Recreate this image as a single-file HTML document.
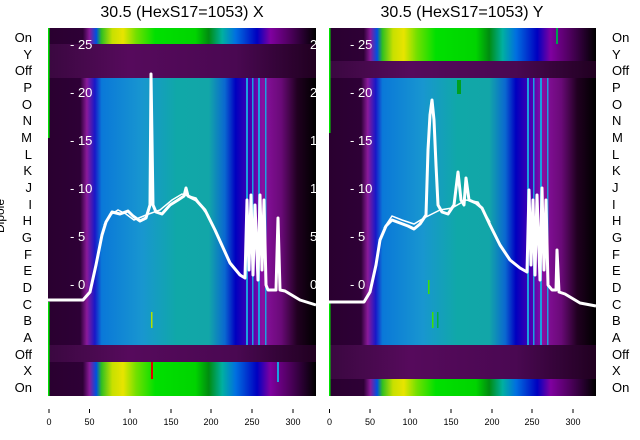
<!DOCTYPE html>
<html><head><meta charset="utf-8"><style>
html,body{margin:0;padding:0;background:#fff;}
svg{display:block;font-family:"Liberation Sans","DejaVu Sans",sans-serif;}
</style></head><body>
<svg width="640" height="440" viewBox="0 0 640 440" xmlns="http://www.w3.org/2000/svg">
<defs>
<linearGradient id="main" x1="0" x2="1" y1="0" y2="0">
<stop offset="0" stop-color="#2a0030"/><stop offset="0.12" stop-color="#2e0036"/>
<stop offset="0.145" stop-color="#8a1a9a"/><stop offset="0.175" stop-color="#1818c8"/>
<stop offset="0.2" stop-color="#0a78d8"/><stop offset="0.35" stop-color="#1896d0"/>
<stop offset="0.48" stop-color="#10a8a8"/><stop offset="0.6" stop-color="#12a6a8"/>
<stop offset="0.66" stop-color="#0a68d0"/><stop offset="0.7" stop-color="#0000c0"/>
<stop offset="0.76" stop-color="#5000b0"/><stop offset="0.8" stop-color="#8a10a0"/>
<stop offset="0.87" stop-color="#6a0a78"/><stop offset="0.93" stop-color="#200020"/>
<stop offset="1" stop-color="#000"/>
</linearGradient>
<linearGradient id="on" x1="0" x2="1" y1="0" y2="0">
<stop offset="0" stop-color="#2a0030"/><stop offset="0.13" stop-color="#2e0036"/>
<stop offset="0.155" stop-color="#8a1a9a"/><stop offset="0.18" stop-color="#0050e0"/>
<stop offset="0.2" stop-color="#30c020"/><stop offset="0.24" stop-color="#c8e000"/>
<stop offset="0.28" stop-color="#e8e400"/><stop offset="0.33" stop-color="#70e000"/>
<stop offset="0.4" stop-color="#00e000"/><stop offset="0.55" stop-color="#00d400"/>
<stop offset="0.6" stop-color="#008c10"/><stop offset="0.65" stop-color="#00b0a0"/>
<stop offset="0.7" stop-color="#0070e0"/><stop offset="0.78" stop-color="#0000c0"/>
<stop offset="0.83" stop-color="#8000a0"/><stop offset="0.9" stop-color="#500060"/>
<stop offset="1" stop-color="#000"/>
</linearGradient>
<linearGradient id="dark" x1="0" x2="1" y1="0" y2="0">
<stop offset="0" stop-color="#3a0840"/><stop offset="0.3" stop-color="#560a5c"/>
<stop offset="0.7" stop-color="#4a0852"/><stop offset="1" stop-color="#200020"/>
</linearGradient>
</defs>
<text x="182" y="17" font-size="16" text-anchor="middle">30.5 (HexS17=1053) X</text>
<text x="462" y="17" font-size="16" text-anchor="middle">30.5 (HexS17=1053) Y</text>

<!-- left panel -->
<g>
<rect x="48" y="28" width="268" height="368" fill="url(#main)"/>
<rect x="48" y="28" width="268" height="16" fill="url(#on)"/>
<rect x="48" y="44" width="268" height="34" fill="url(#dark)"/>
<rect x="48" y="345" width="268" height="17" fill="url(#dark)"/>
<rect x="48" y="362" width="268" height="34" fill="url(#on)"/>
<g fill="#1aa0e0"><rect x="246" y="78" width="2" height="267"/><rect x="252" y="78" width="1.5" height="267"/><rect x="258" y="78" width="2" height="267"/><rect x="265" y="78" width="1.5" height="267"/><rect x="277" y="362" width="2" height="20"/></g>
<rect x="151" y="362" width="2" height="17" fill="#e00000"/>
<rect x="151" y="312" width="1.5" height="16" fill="#b0e000"/>
<rect x="48" y="28" width="1.5" height="110" fill="#00e000"/>
<rect x="48" y="302" width="1.5" height="94" fill="#00e000"/>
<polyline fill="none" stroke="#fff" stroke-width="3" stroke-linejoin="round" points="48,300 83,300 90,292 96,265 102,235 106,222 112,212 120,214 128,211 133,216 140,221 146,218 150,205 151,74 153,205 156,212 162,214 170,205 178,200 184,196 186,188 188,196 196,200 205,210 215,230 230,263 240,275 245,278 247,200 249,270 251,195 253,275 255,205 258,280 260,195 262,270 264,200 266,285 268,290 276,290 278,218 280,290 285,291 300,300 316,305"/>
<polyline fill="none" stroke="#fff" stroke-width="1.5" points="104,225 110,215 118,210 126,214 134,220 146,215 160,210 172,200 182,194 196,198 205,212"/>
<g fill="#fff" font-size="13"><text x="70" y="49">- 25</text><text x="70" y="97">- 20</text><text x="70" y="145">- 15</text><text x="70" y="193">- 10</text><text x="70" y="241">- 5</text><text x="70" y="289">- 0</text></g>
<g fill="#fff" font-size="13"><text x="310" y="49">25</text><text x="310" y="97">20</text><text x="310" y="145">15</text><text x="310" y="193">10</text><text x="310" y="241">5</text><text x="310" y="289">0</text></g>
</g>

<!-- right panel -->
<g>
<rect x="329" y="28" width="267" height="368" fill="url(#main)"/>
<rect x="329" y="28" width="267" height="33" fill="url(#on)"/>
<rect x="329" y="61" width="267" height="17" fill="url(#dark)"/>
<rect x="329" y="345" width="267" height="34" fill="url(#dark)"/>
<rect x="329" y="379" width="267" height="17" fill="url(#on)"/>
<g fill="#1aa0e0"><rect x="527" y="78" width="2" height="267"/><rect x="533" y="78" width="1.5" height="267"/><rect x="540" y="78" width="2" height="267"/><rect x="547" y="78" width="1.5" height="267"/></g>
<rect x="457" y="80" width="4" height="14" fill="#00a020"/>
<rect x="556" y="28" width="2" height="16" fill="#00a050"/>
<rect x="428" y="280" width="1.5" height="14" fill="#40e000"/>
<rect x="432" y="312" width="1.5" height="16" fill="#40e000"/>
<rect x="437" y="312" width="1.5" height="16" fill="#00b040"/>
<rect x="329" y="28" width="1.5" height="105" fill="#00e000"/>
<rect x="329" y="302" width="1.5" height="94" fill="#00e000"/>
<polyline fill="none" stroke="#fff" stroke-width="3" stroke-linejoin="round" points="329,302 364,302 370,292 376,265 380,240 386,226 392,220 400,223 408,226 414,229 420,224 426,215 428,150 430,115 432,100 434,120 436,165 438,205 442,212 448,214 454,205 458,172 461,200 464,205 466,178 469,200 476,203 482,208 490,225 500,245 510,260 520,268 527,272 529,190 531,265 533,200 535,275 537,195 540,280 542,188 544,270 546,200 548,285 552,290 556,290 557,250 559,292 565,294 580,303 596,306"/>
<polyline fill="none" stroke="#fff" stroke-width="1.5" points="384,228 392,216 402,220 414,224 424,218 440,210 452,208 466,200 478,202 490,222"/>
<g fill="#fff" font-size="13"><text x="350" y="49">- 25</text><text x="350" y="97">- 20</text><text x="350" y="145">- 15</text><text x="350" y="193">- 10</text><text x="350" y="241">- 5</text><text x="350" y="289">- 0</text></g>
</g>

<!-- row labels -->
<g font-size="13" fill="#000">
<g text-anchor="end">
<text x="32" y="42">On</text><text x="32" y="59">Y</text><text x="32" y="75">Off</text><text x="32" y="92">P</text><text x="32" y="109">O</text><text x="32" y="125">N</text><text x="32" y="142">M</text><text x="32" y="159">L</text><text x="32" y="175">K</text><text x="32" y="192">J</text><text x="32" y="209">I</text><text x="32" y="225">H</text><text x="32" y="242">G</text><text x="32" y="259">F</text><text x="32" y="275">E</text><text x="32" y="292">D</text><text x="32" y="309">C</text><text x="32" y="325">B</text><text x="32" y="342">A</text><text x="32" y="359">Off</text><text x="32" y="375">X</text><text x="32" y="392">On</text>
</g>
<g>
<text x="612" y="42">On</text><text x="612" y="59">Y</text><text x="612" y="75">Off</text><text x="612" y="92">P</text><text x="612" y="109">O</text><text x="612" y="125">N</text><text x="612" y="142">M</text><text x="612" y="159">L</text><text x="612" y="175">K</text><text x="612" y="192">J</text><text x="612" y="209">I</text><text x="612" y="225">H</text><text x="612" y="242">G</text><text x="612" y="259">F</text><text x="612" y="275">E</text><text x="612" y="292">D</text><text x="612" y="309">C</text><text x="612" y="325">B</text><text x="612" y="342">A</text><text x="612" y="359">Off</text><text x="612" y="375">X</text><text x="612" y="392">On</text>
</g>
<text x="4" y="216" transform="rotate(-90 4 216)" text-anchor="middle" font-size="12">Dipole</text>
</g>

<!-- x ticks -->
<g stroke="#000" stroke-width="1">
<line x1="49" y1="409" x2="49" y2="413"/><line x1="89.5" y1="409" x2="89.5" y2="413"/><line x1="130" y1="409" x2="130" y2="413"/><line x1="171" y1="409" x2="171" y2="413"/><line x1="211" y1="409" x2="211" y2="413"/><line x1="252" y1="409" x2="252" y2="413"/><line x1="293" y1="409" x2="293" y2="413"/>
<line x1="329.5" y1="409" x2="329.5" y2="413"/><line x1="370" y1="409" x2="370" y2="413"/><line x1="410" y1="409" x2="410" y2="413"/><line x1="451" y1="409" x2="451" y2="413"/><line x1="492" y1="409" x2="492" y2="413"/><line x1="532" y1="409" x2="532" y2="413"/><line x1="573" y1="409" x2="573" y2="413"/>
</g>
<g font-size="9" text-anchor="middle" fill="#000">
<text x="49" y="425">0</text><text x="89.5" y="425">50</text><text x="130" y="425">100</text><text x="171" y="425">150</text><text x="211" y="425">200</text><text x="252" y="425">250</text><text x="293" y="425">300</text>
<text x="329.5" y="425">0</text><text x="370" y="425">50</text><text x="410" y="425">100</text><text x="451" y="425">150</text><text x="492" y="425">200</text><text x="532" y="425">250</text><text x="573" y="425">300</text>
</g>
</svg>
</body></html>
